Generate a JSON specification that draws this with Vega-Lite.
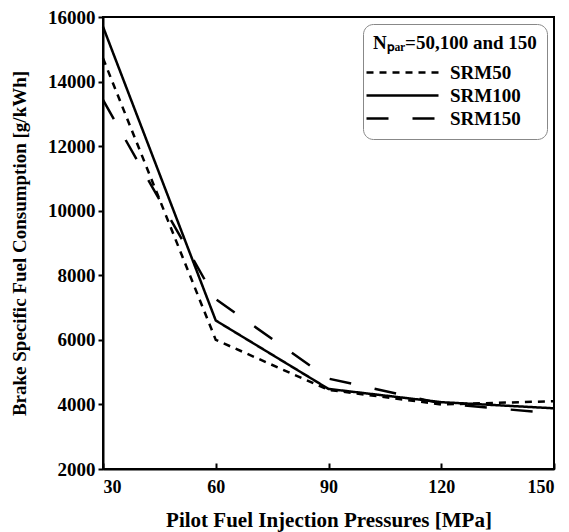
{
  "$schema": "https://vega.github.io/schema/vega-lite/v6.json",
  "width": 451,
  "height": 452,
  "autosize": "none",
  "padding": {"left": 103, "top": 17, "right": 15, "bottom": 63},
  "background": "white",
  "config": {
    "font": "Liberation Serif",
    "view": {"stroke": "black", "strokeWidth": 2},
    "axis": {
      "grid": false,
      "domainColor": "black",
      "domainWidth": 2,
      "tickColor": "black",
      "tickWidth": 2,
      "labelFont": "Liberation Serif",
      "labelFontWeight": "bold",
      "labelFontSize": 19,
      "labelColor": "black",
      "titleFont": "Liberation Serif",
      "titleFontWeight": "bold",
      "titleFontSize": 19,
      "titleColor": "black"
    }
  },
  "data": {
    "values": [
      {"p": 30, "bsfc": 14720, "series": "SRM50"},
      {"p": 60, "bsfc": 6000, "series": "SRM50"},
      {"p": 90, "bsfc": 4450, "series": "SRM50"},
      {"p": 120, "bsfc": 4000, "series": "SRM50"},
      {"p": 150, "bsfc": 4100, "series": "SRM50"},
      {"p": 30, "bsfc": 15700, "series": "SRM100"},
      {"p": 60, "bsfc": 6600, "series": "SRM100"},
      {"p": 90, "bsfc": 4480, "series": "SRM100"},
      {"p": 120, "bsfc": 4070, "series": "SRM100"},
      {"p": 150, "bsfc": 3880, "series": "SRM100"},
      {"p": 30, "bsfc": 13430, "series": "SRM150"},
      {"p": 60, "bsfc": 7260, "series": "SRM150"},
      {"p": 90, "bsfc": 4800, "series": "SRM150"},
      {"p": 120, "bsfc": 4030, "series": "SRM150"},
      {"p": 150, "bsfc": 3720, "series": "SRM150"}
    ]
  },
  "mark": {"type": "line", "color": "black", "strokeWidth": 2.5},
  "encoding": {
    "x": {
      "field": "p",
      "type": "quantitative",
      "scale": {"domain": [30, 150], "nice": false},
      "axis": {"values": [30, 60, 90, 120, 150], "format": "d", "tickSize": -6, "labelPadding": 15, "labelFontSize": 18, "title": "Pilot Fuel Injection Pressures [MPa]", "titleFontSize": 21, "titlePadding": 13}
    },
    "y": {
      "field": "bsfc",
      "type": "quantitative",
      "scale": {"domain": [2000, 16000], "nice": false},
      "axis": {"values": [2000, 4000, 6000, 8000, 10000, 12000, 14000, 16000], "format": "d", "tickSize": 5, "labelPadding": 3, "title": "Brake Specific Fuel Consumption [g/kWh]", "titlePadding": 18}
    },
    "strokeDash": {
      "field": "series",
      "type": "nominal",
      "scale": {"domain": ["SRM50", "SRM100", "SRM150"], "range": [[7, 6], [1, 0], [22, 24]]},
      "legend": {
        "title": "Nₚₐᵣ=50,100 and 150",
        "titleFont": "Liberation Serif",
        "titleFontSize": 19,
        "titleFontWeight": "bold",
        "titleColor": "black",
        "titlePadding": 8,
        "labelFont": "Liberation Serif",
        "labelFontSize": 19,
        "labelFontWeight": "bold",
        "labelColor": "black",
        "symbolType": "M-6.2,0H1",
        "symbolSize": 400,
        "symbolOffset": 44,
        "symbolStrokeWidth": 2.5,
        "symbolStrokeColor": "black",
        "orient": "top-right",
        "offset": 7,
        "padding": 10,
        "cornerRadius": 10,
        "strokeColor": "#888888",
        "rowPadding": 1,
        "labelOffset": 10
      }
    }
  }
}
